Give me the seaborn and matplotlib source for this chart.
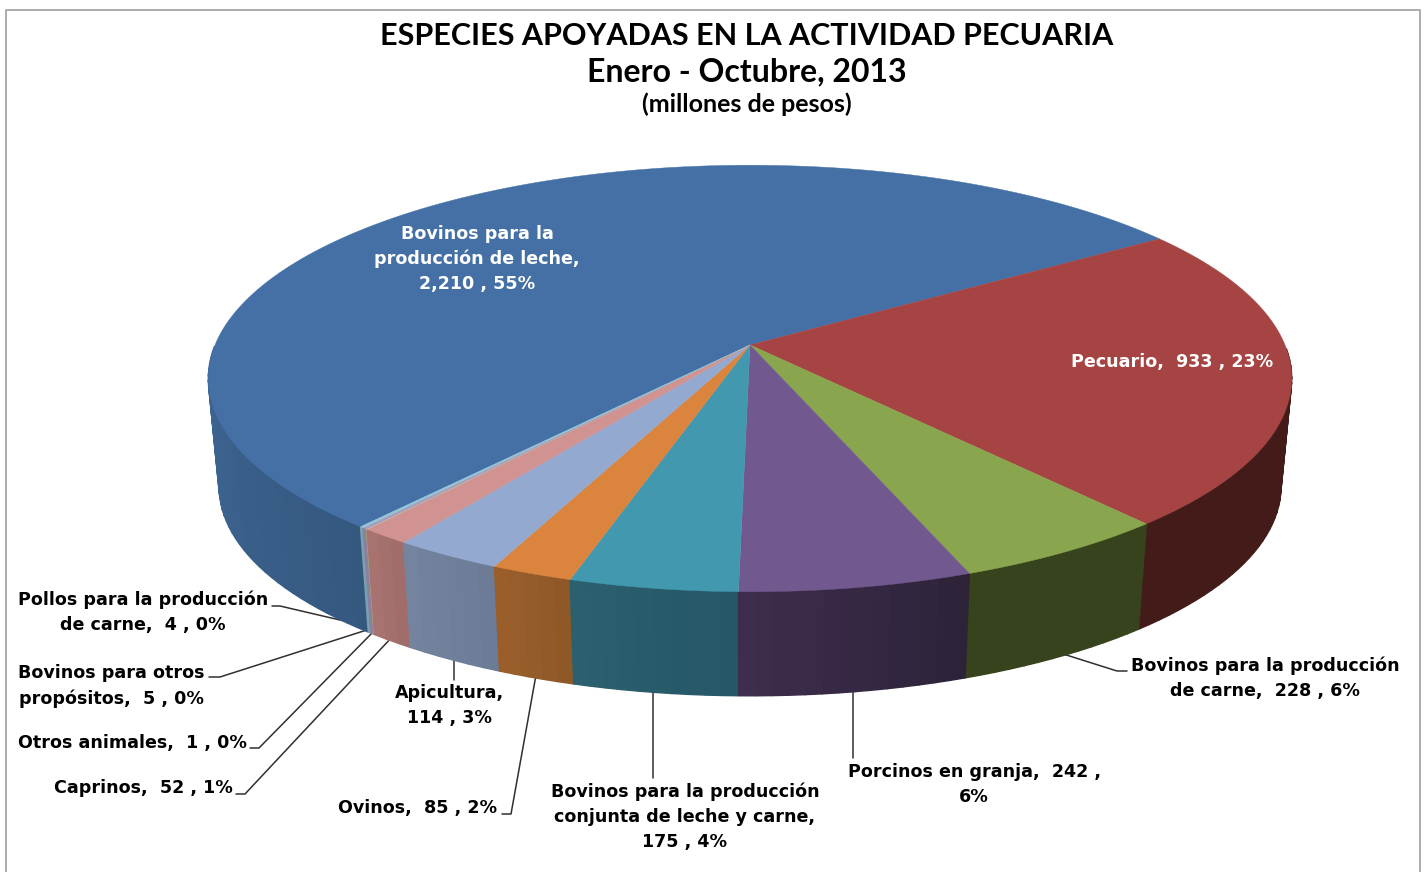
import numpy as np
import matplotlib
matplotlib.use('Agg')
import matplotlib.pyplot as plt
from matplotlib.colors import to_rgb
import seaborn as sns

# clockwise order, starting from the big blue slice
species = ['Bovinos para la producción de leche', 'Pecuario', 'Bovinos para la producción de carne',
           'Porcinos en granja', 'Bovinos para la producción conjunta de leche y carne', 'Ovinos',
           'Apicultura', 'Caprinos', 'Otros animales', 'Bovinos para otros propósitos',
           'Pollos para la producción de carne']
amounts = [2210, 933, 228, 242, 175, 85, 114, 52, 1, 5, 4]

top_colors = ['#4470A6', '#A64444', '#89A54E', '#71588F', '#4198AF', '#DB843D',
              '#93A9CF', '#D19392', '#B9CD96', '#A99BBD', '#91C3D5']
side_left = ['#3F6896', '#431C1A', '#37431C', '#3F2D4E', '#2B6070', '#9B5F2C',
             '#7585A0', '#A87370', '#A0A080', '#8C809C', '#78A0B0']
side_right = ['#35587F', '#431C1A', '#37431C', '#2B2338', '#255665', '#8E5826',
              '#6B7A95', '#A06C6A', '#A0A080', '#8C809C', '#78A0B0']

labels = [
    ('Bovinos para la\nproducción de leche,\n2,210 , 55%', 477, 259, 'white'),
    ('Pecuario,  933 , 23%', 1172, 362, 'white'),
    ('Bovinos para la producción\nde carne,  228 , 6%', 1265, 678, 'black'),
    ('Porcinos en granja,  242 ,\n6%', 974, 784, 'black'),
    ('Bovinos para la producción\nconjunta de leche y carne,\n175 , 4%', 685, 817, 'black'),
    ('Ovinos,  85 , 2%', 418, 808, 'black'),
    ('Apicultura,\n114 , 3%', 449, 705, 'black'),
    ('Caprinos,  52 , 1%', 143, 788, 'black'),
    ('Otros animales,  1 , 0%', 132, 743, 'black'),
    ('Bovinos para otros\npropósitos,  5 , 0%', 111, 686, 'black'),
    ('Pollos para la producción\nde carne,  4 , 0%', 143, 612, 'black'),
]

leaders = [
    [(1060, 653), (1117, 671), (1127, 671)],
    [(853, 692), (853, 758)],
    [(653, 692), (653, 778)],
    [(536, 675), (511, 814), (502, 814)],
    [(454, 655), (454, 680)],
    [(393, 636), (245, 794), (236, 794)],
    [(373, 632), (259, 748), (250, 748)],
    [(373, 628), (220, 677), (209, 677)],
    [(370, 627), (280, 606), (272, 606)],
]

# where the disc sits on the canvas, in pixels
cx, cy = 750, 345
rx, ry = 535, 208
persp = 0.157
depth = 109
shrink = 0.98


def project(theta, bottom=False):
    x, y = np.cos(theta), np.sin(theta)
    w = 1 + persp * y
    px, py = rx * x / w, -ry * y / w
    if bottom:
        return cx + shrink * px, cy + depth + shrink * py
    return cx + px, cy + py


sns.set_theme(style='white')
plt.rcParams['font.family'] = ['DejaVu Sans']

palette = sns.color_palette(top_colors)

fig, ax = plt.subplots(figsize=(14.24, 8.72), dpi=100)
ax.set_position([0, 0, 1, 1])
ax.set_xlim(0, 1424)
ax.set_ylim(872, 0)
ax.axis('off')

# chart frame
ax.plot([6, 6, 1420, 1420], [872, 10, 10, 872], color='#a6a6a6', lw=1.3)

# blue ends near 34 degrees, everything after it runs clockwise
sweeps = np.array(amounts) / sum(amounts) * 2 * np.pi
bounds = np.radians(33.7) + sweeps[0] - np.concatenate([[0], np.cumsum(sweeps)])
starts, ends = bounds[1:], bounds[:-1]

# outer wall, small quads so the shading can drift across a slice
quads = []
for i, (a, b) in enumerate(zip(starts, ends)):
    n = max(2, int(np.degrees(b - a) / 1.5))
    grid = np.linspace(a, b, n + 1)
    front = [j for j in range(n) if np.sin((grid[j] + grid[j + 1]) / 2) < -0.01]
    c_a, c_b = np.array(to_rgb(side_left[i])), np.array(to_rgb(side_right[i]))
    for k, j in enumerate(front):
        t0, t1 = grid[j], grid[j + 1]
        col = c_a + (c_b - c_a) * (k + 0.5) / len(front)
        xs = [project(t0)[0], project(t1)[0], project(t1, True)[0], project(t0, True)[0]]
        ys = [project(t0)[1], project(t1)[1], project(t1, True)[1], project(t0, True)[1]]
        quads.append((np.sin((t0 + t1) / 2), xs, ys, col))

for _, xs, ys, col in sorted(quads, key=lambda q: -q[0]):
    ax.fill(xs, ys, color=col, lw=1, zorder=2)

# top face
for i, (a, b) in enumerate(zip(starts, ends)):
    grid = np.linspace(a, b, max(3, int(np.degrees(b - a))))
    px, py = project(grid)
    ax.fill(np.r_[cx, px], np.r_[cy, py], color=palette[i], lw=0.3, zorder=3)

for pts in leaders:
    xs, ys = zip(*pts)
    ax.plot(xs, ys, color='#303030', lw=1.1, zorder=1)

for text, x, y, col in labels:
    ax.text(x, y, text, ha='center', va='center', color=col, fontsize=12.6,
            fontweight='bold', linespacing=1.5, zorder=5)

ax.text(747, 36, 'ESPECIES APOYADAS EN LA ACTIVIDAD PECUARIA', ha='center', va='center',
        fontsize=22, fontweight='bold', family='Lato', color='black')
ax.text(747, 72, 'Enero - Octubre, 2013', ha='center', va='center',
        fontsize=23, fontweight='bold', family='Lato', color='black')
ax.text(747, 104, '(millones de pesos)', ha='center', va='center',
        fontsize=18, fontweight='bold', family='Lato', color='black')

fig.savefig('out.png', dpi=100)
